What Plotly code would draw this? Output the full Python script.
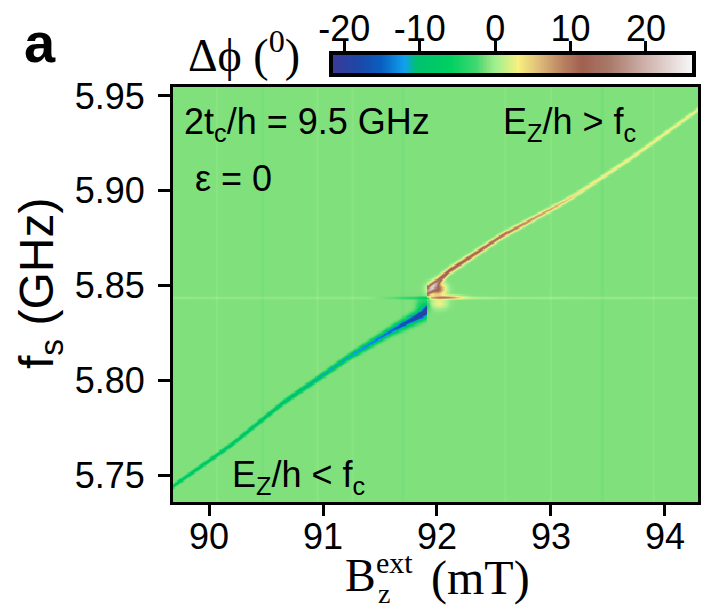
import numpy as np
import plotly.graph_objects as go

# ---------------- data ----------------
B_limits = [89.684, 94.29]          # mT
f_limits = [5.7358, 5.9547]         # GHz
x_ticks = [90, 91, 92, 93, 94]
y_ticks = [5.75, 5.80, 5.85, 5.90, 5.95]
y_ticklabels = ["5.75", "5.80", "5.85", "5.90", "5.95"]
cbar_limits = [-21.5, 26.1]
cbar_ticks = [-20, -10, 0, 10, 20]
cbar_ticklabels = ["-20", "-10", "0", "10", "20"]

background = -1.2                   # deg, flat background
stripe_B = [90.07, 90.47, 90.95, 91.26, 91.70, 92.60, 93.00, 93.45, 93.90]
stripe_amp = [0.35, -0.25, 0.35, 0.3, -0.25, 0.3, 0.35, -0.25, 0.3]

# lower branch (E_Z/h < f_c): ridge centre, depth, width
lower_B = [89.684, 89.70, 90.20, 90.65, 91.23, 91.60, 91.89, 91.92]
lower_f = [5.7440, 5.7447, 5.7660, 5.7880, 5.8123, 5.8260, 5.8355, 5.8370]
lower_amp = [-8.0, -8.0, -9.0, -9.5, -10.8, -13.5, -19.0, -20.0]
lower_w = [0.0009, 0.0009, 0.0010, 0.0011, 0.0014, 0.0020, 0.0029, 0.0032]

# upper branch (E_Z/h > f_c)
upper_B = [91.92, 92.00, 92.11, 92.57, 93.10, 93.25, 93.70, 94.29]
upper_f = [5.8470, 5.8515, 5.8577, 5.8761, 5.8935, 5.8990, 5.9170, 5.9426]
upper_amp = [16.0, 15.0, 13.0, 11.5, 7.0, 5.0, 4.5, 4.0]
upper_w = [0.0028, 0.0022, 0.0017, 0.0014, 0.0012, 0.0011, 0.0011, 0.0011]

# horizontal feature at the cavity frequency
line_f = 5.8434
line_B = [89.684, 91.40, 91.65, 91.82, 91.92, 91.95, 92.20, 92.60, 94.29]
line_amp = [0.7, 0.6, -1.0, -3.0, -6.0, 5.0, 2.5, 1.0, 0.7]
line_w = 0.0008

# localized features near the crossing: B, f, amplitude, width B, width f
blob_B = [92.00, 92.10, 92.02, 91.88]
blob_f = [5.8480, 5.8438, 5.8405, 5.8395]
blob_amp = [13.0, 7.0, 4.0, -5.0]
blob_wB = [0.07, 0.12, 0.07, 0.05]
blob_wf = [0.0030, 0.0010, 0.0028, 0.0030]

# colour scale: value, colour
cs_values = [-21.5, -18.0, -15.0, -12.0, -10.5, -6.0, -2.5, -1.2, 0.0, 3.0,
             6.0, 9.0, 11.5, 15.0, 19.0, 26.1]
cs_colors = ["#3a3a98", "#1c48a8", "#0860c0", "#10a0f0", "#00c070", "#00d060",
             "#40d870", "#80e07c", "#a0f090", "#f8f080", "#dcb878", "#b88060",
             "#a06050", "#a87868", "#c8a8a0", "#f8f8f8"]

# ---------------- build the map ----------------
nB, nf = 460, 360
B = np.linspace(B_limits[0], B_limits[1], nB)
F = np.linspace(f_limits[0], f_limits[1], nf)
BB, FF = np.meshgrid(B, F)

Z = np.full(BB.shape, background)
for sb, sa in zip(stripe_B, stripe_amp):
    Z += sa * np.exp(-((BB - sb) / 0.012) ** 2)

m = BB <= lower_B[-1]
fc = np.interp(BB, lower_B, lower_f)
a = np.interp(BB, lower_B, lower_amp)
w = np.interp(BB, lower_B, lower_w)
Z += np.where(m, a * np.exp(-((FF - fc) / w) ** 2), 0)

m = BB >= upper_B[0]
fc = np.interp(BB, upper_B, upper_f)
a = np.interp(BB, upper_B, upper_amp)
w = np.interp(BB, upper_B, upper_w)
Z += np.where(m, a * np.exp(-((FF - fc) / w) ** 2), 0)

a = np.interp(BB, line_B, line_amp)
Z += a * np.exp(-((FF - line_f) / line_w) ** 2)

for b0, f0, am, wb, wf in zip(blob_B, blob_f, blob_amp, blob_wB, blob_wf):
    Z += am * np.exp(-((BB - b0) / wb) ** 2 - ((FF - f0) / wf) ** 2)

Z = np.round(Z, 2)

span = cbar_limits[1] - cbar_limits[0]
colorscale = [[(v - cbar_limits[0]) / span, c] for v, c in zip(cs_values, cs_colors)]

# ---------------- figure ----------------
W, H = 705, 608
L, R, T, Bm = 173, 7, 40, 106
pw, ph = W - L - R, H - T - Bm


def px(x):
    return (x - L) / pw


def py(y):
    return (H - Bm - y) / ph


fig = go.Figure()
fig.add_trace(go.Heatmap(x=B, y=F, z=Z, colorscale=colorscale,
                         zmin=cbar_limits[0], zmax=cbar_limits[1],
                         showscale=False, hoverinfo="skip"))

cb_x = np.linspace(cbar_limits[0], cbar_limits[1], 240)
fig.add_trace(go.Heatmap(x=cb_x, y=[0.5], z=[cb_x], colorscale=colorscale,
                         zmin=cbar_limits[0], zmax=cbar_limits[1],
                         showscale=False, hoverinfo="skip",
                         xaxis="x2", yaxis="y2"))

font = "Liberation Sans, Arial, sans-serif"
serif = "Liberation Serif, Times New Roman, serif"

fig.update_layout(
    width=W, height=H, margin=dict(l=L, r=R, t=T, b=Bm, autoexpand=False),
    paper_bgcolor="white", plot_bgcolor="white",
    font=dict(family=font, size=36, color="black"),
    xaxis=dict(domain=[0, 1], range=B_limits, tickvals=x_ticks,
               ticks="outside", ticklen=11, tickwidth=3, tickcolor="black",
               showline=True, linewidth=3, linecolor="black", mirror=True,
               showgrid=False, zeroline=False, tickfont=dict(size=36),
               ticklabelstandoff=-10, automargin=False, anchor="y"),
    yaxis=dict(domain=[0, py(87)], range=f_limits, tickvals=y_ticks,
               ticktext=y_ticklabels,
               ticks="outside", ticklen=12, tickwidth=3, tickcolor="black",
               showline=True, linewidth=3, linecolor="black", mirror=True,
               showgrid=False, zeroline=False, tickfont=dict(size=36),
               ticklabelstandoff=6, automargin=False, anchor="x"),
    xaxis2=dict(domain=[px(333), px(692)], range=cbar_limits, tickvals=cbar_ticks,
                ticktext=cbar_ticklabels,
                side="top", ticks="outside", ticklen=10, tickwidth=3,
                tickcolor="black", showline=True, linewidth=4,
                linecolor="black", mirror=True, showgrid=False,
                zeroline=False, tickfont=dict(size=36),
                ticklabelstandoff=-14, automargin=False, anchor="y2"),
    yaxis2=dict(domain=[py(73), py(55)], range=[0, 1], showticklabels=False,
                ticks="", showline=True, linewidth=4, linecolor="black",
                mirror=True, showgrid=False, zeroline=False,
                automargin=False, anchor="x2"),
)

ann = []


def add(text, x, y, size, fam=font, xanchor="left", yanchor="middle", **kw):
    ann.append(dict(text=text, x=px(x), y=py(y), xref="paper", yref="paper",
                    xanchor=xanchor, yanchor=yanchor, showarrow=False,
                    font=dict(family=fam, size=size, color="black"), **kw))


add("<b>a</b>", 40, 43, 56, xanchor="center")
add("Δϕ (<sup>0</sup>)", 244, 52, 46, fam=serif, xanchor="center")
add("2t<sub>c</sub>/h = 9.5 GHz", 182, 124, 36)
add("E<sub>Z</sub>/h > f<sub>c</sub>", 501, 124, 36)
add("ε = 0", 193, 178, 36)
add("E<sub>Z</sub>/h < f<sub>c</sub>", 230, 477, 36)
add("f<sub>s</sub> (GHz)", 40, 284, 48, xanchor="center", textangle=-90)
add("B", 343, 575, 46, fam=serif)
add("ext", 375, 562, 30, fam=serif, borderpad=0)
add("z", 377, 593, 28, fam=serif, borderpad=0)
add("(mT)", 430, 578, 48, fam=serif, borderpad=0)
fig.update_layout(annotations=ann)

fig.write_html("out.html")
